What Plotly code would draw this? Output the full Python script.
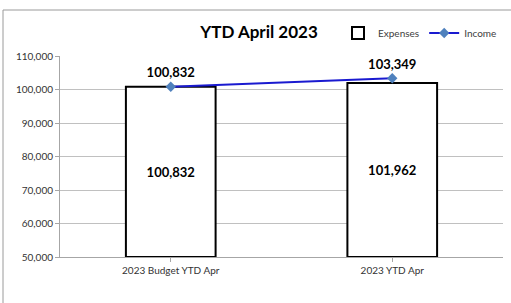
import plotly.graph_objects as go

categories = ["2023 Budget YTD Apr", "2023 YTD Apr"]
expenses = [100832, 101962]
income = [100832, 103349]
y_ticks = [50000, 60000, 70000, 80000, 90000, 100000, 110000]

W, H = 511, 303
ml, mr, mt, mb = 60, 8, 56, 46
pw, ph = W - ml - mr, H - mt - mb

def px_x(x):
    return (x - ml) / pw

def px_y(y):
    return (H - mb - y) / ph

FONT = "Lato, 'Open Sans', sans-serif"

fig = go.Figure()
fig.add_trace(go.Bar(
    x=categories, y=[e - 50000 for e in expenses], base=50000,
    name="Expenses",
    marker=dict(color="white", line=dict(color="black", width=2)),
    width=0.405,
    text=[f"{v:,}" for v in expenses], textposition="inside",
    insidetextanchor="middle",
    textfont=dict(family=FONT, size=13, color="black", weight="bold"),
    hoverinfo="skip",
))
fig.add_trace(go.Scatter(
    x=categories, y=income, name="Income",
    mode="lines+markers+text",
    line=dict(color="#1a1ad0", width=2),
    marker=dict(symbol="diamond", size=8, color="#4f81bd"),
    text=[f"{v:,}" for v in income], textposition="top center",
    textfont=dict(family=FONT, size=13, color="black", weight="bold"),
))

fig.update_layout(
    width=W, height=H,
    margin=dict(l=ml, r=mr, t=mt, b=mb, pad=0),
    paper_bgcolor="white", plot_bgcolor="white",
    font=dict(family=FONT, size=10, color="#333333"),
    title=dict(text="<b>YTD April 2023</b>", x=259 / W, xref="container",
               xanchor="center", y=1 - 32 / H, yanchor="middle",
               font=dict(family=FONT, size=17, color="black")),
    showlegend=True,
    legend=dict(orientation="h", x=px_x(338), xanchor="left", y=px_y(33), yanchor="middle",
                xref="paper", yref="paper",
                font=dict(family=FONT, size=10, color="#404040"),
                bgcolor="rgba(0,0,0,0)", itemwidth=30, tracegroupgap=0),
    xaxis=dict(showline=True, linecolor="#a6a6a6", linewidth=1,
               ticks="outside", tickcolor="#a6a6a6", ticklen=4,
               tickfont=dict(family=FONT, size=10, color="#333333"),
               showgrid=False),
    yaxis=dict(range=[50000, 110000], tickvals=y_ticks,
               tickformat=",d", showline=True, linecolor="#a6a6a6", linewidth=1,
               ticks="outside", tickcolor="#a6a6a6", ticklen=4,
               gridcolor="#c0c0c0", gridwidth=1,
               tickfont=dict(family=FONT, size=10, color="#333333"),
               zeroline=False),
    shapes=[dict(type="rect", xref="paper", yref="paper",
                 x0=px_x(3), x1=px_x(515), y0=px_y(310), y1=px_y(10),
                 line=dict(color="#9a9a9a", width=1), fillcolor="rgba(0,0,0,0)",
                 layer="below")],
)

fig.write_html("out.html", config={"displayModeBar": False},
               post_script="document.body.style.margin='0';document.body.style.overflow='hidden';")
